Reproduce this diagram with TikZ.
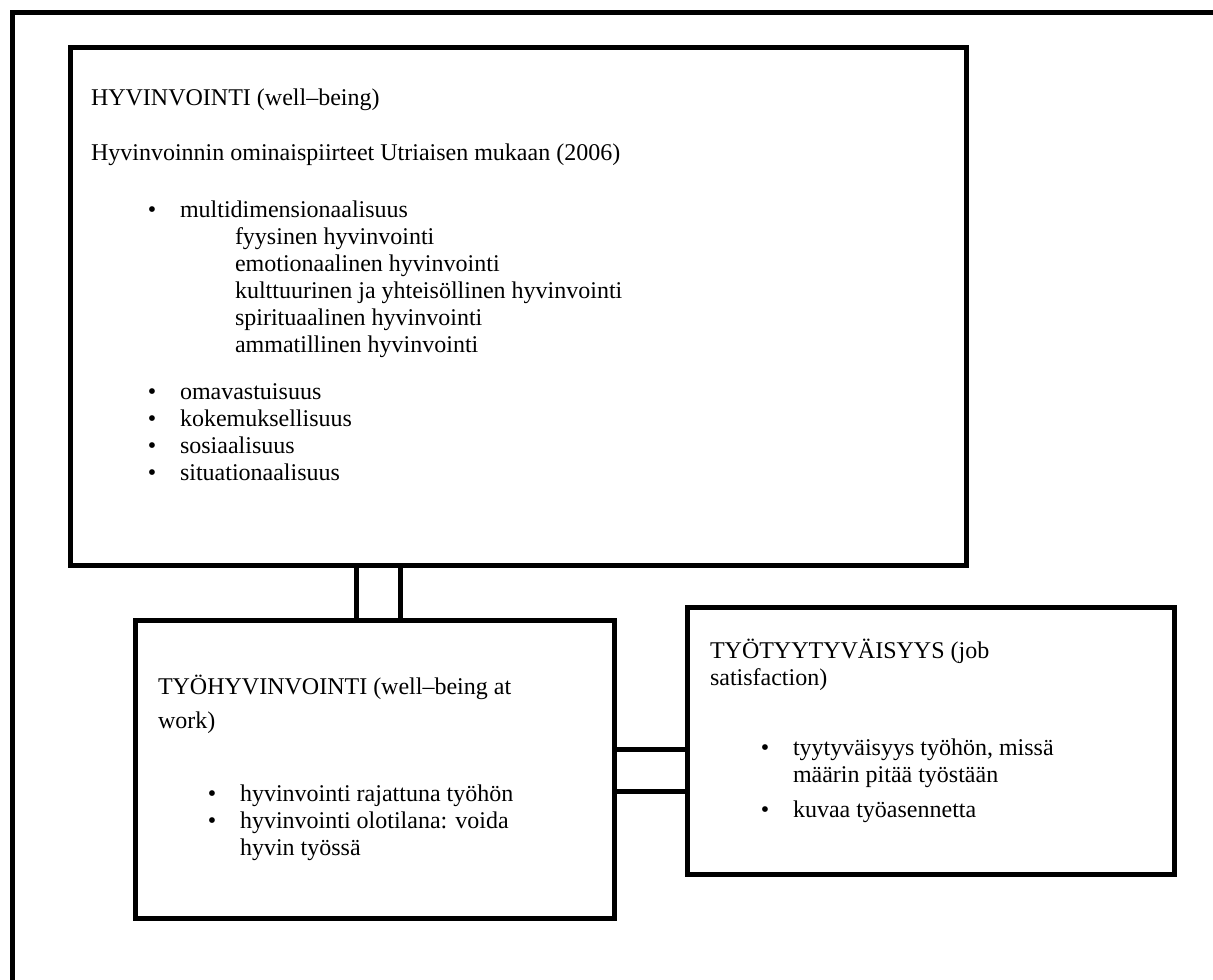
\documentclass[tikz,border=0pt]{standalone}
\usepackage{fontspec}
\setmainfont{Liberation Serif}
\begin{document}
\begin{tikzpicture}[x=1pt,y=-1pt,
  frame/.style={draw=black,line width=5pt,line join=miter,inner sep=0pt,outer sep=0pt,rectangle},
  conn/.style={draw=black,line width=5pt},
  txt/.style={anchor=base west,inner sep=0pt,outer sep=0pt,font=\fontsize{24}{27}\selectfont},
  bul/.style={anchor=base,inner sep=0pt,outer sep=0pt,font=\fontsize{24}{27}\selectfont}]
\useasboundingbox (0,0) rectangle (1213,980);
\clip (0,0) rectangle (1213,980);
\fill[white] (0,0) rectangle (1213,980);
% outer frame
\draw[line width=5pt] (12,1100) -- (12,12) -- (1300,12);
% boxes
\node[frame,minimum width=896pt,minimum height=518pt] (big) at (518,306) {};
\node[frame,minimum width=479pt,minimum height=298pt] (wb) at (374.5,769) {};
\node[frame,minimum width=487pt,minimum height=267pt] (js) at (930.5,740.5) {};
% connectors
\coordinate (va) at (356,0);
\coordinate (vb) at (400,0);
\coordinate (ha) at (0,749);
\coordinate (hb) at (0,791);
\draw[conn] (va |- big.south) -- (va |- wb.north);
\draw[conn] (vb |- big.south) -- (vb |- wb.north);
\draw[conn] (wb.east |- ha) -- (js.west |- ha);
\draw[conn] (wb.east |- hb) -- (js.west |- hb);
% big box text
\node[txt] (t1) at (91,105) {HYVINVOINTI (well–being)};
\node[txt] (t2) at (91,160) {Hyvinvoinnin ominaispiirteet Utriaisen mukaan (2006)};
\node[bul] (b1) at (152,217) {•};
\node[txt] (t3) at (180,217) {multidimensionaalisuus};
\node[txt] (t4) at (235,244) {fyysinen hyvinvointi};
\node[txt] (t5) at (235,271) {emotionaalinen hyvinvointi};
\node[txt] (t6) at (235,298) {kulttuurinen ja yhteisöllinen hyvinvointi};
\node[txt] (t7) at (235,325) {spirituaalinen hyvinvointi};
\node[txt] (t8) at (235,352) {ammatillinen hyvinvointi};
\node[bul] (b2) at (152,399) {•};
\node[txt] (t9) at (180,399) {omavastuisuus};
\node[bul] (b3) at (152,426) {•};
\node[txt] (t10) at (180,426) {kokemuksellisuus};
\node[bul] (b4) at (152,453) {•};
\node[txt] (t11) at (180,453) {sosiaalisuus};
\node[bul] (b5) at (152,480) {•};
\node[txt] (t12) at (180,480) {situationaalisuus};
% left box text
\node[txt] (w1) at (158,694) {TYÖHYVINVOINTI (well–being at};
\node[txt] (w2) at (158,728) {work)};
\node[bul] (wb1) at (212,801) {•};
\node[txt] (w3) at (240,801) {hyvinvointi rajattuna työhön};
\node[bul] (wb2) at (212,828) {•};
\node[txt] (w4) at (240,828) {hyvinvointi olotilana: voida};
\node[txt] (w5) at (240,855) {hyvin työssä};
% right box text
\node[txt] (j1) at (710,658) {TYÖTYYTYVÄISYYS (job};
\node[txt] (j2) at (710,685) {satisfaction)};
\node[bul] (jb1) at (765,755) {•};
\node[txt] (j3) at (793,755) {tyytyväisyys työhön, missä};
\node[txt] (j4) at (793,782) {määrin pitää työstään};
\node[bul] (jb2) at (765,817) {•};
\node[txt] (j5) at (793,817) {kuvaa työasennetta};
\end{tikzpicture}
\end{document}
